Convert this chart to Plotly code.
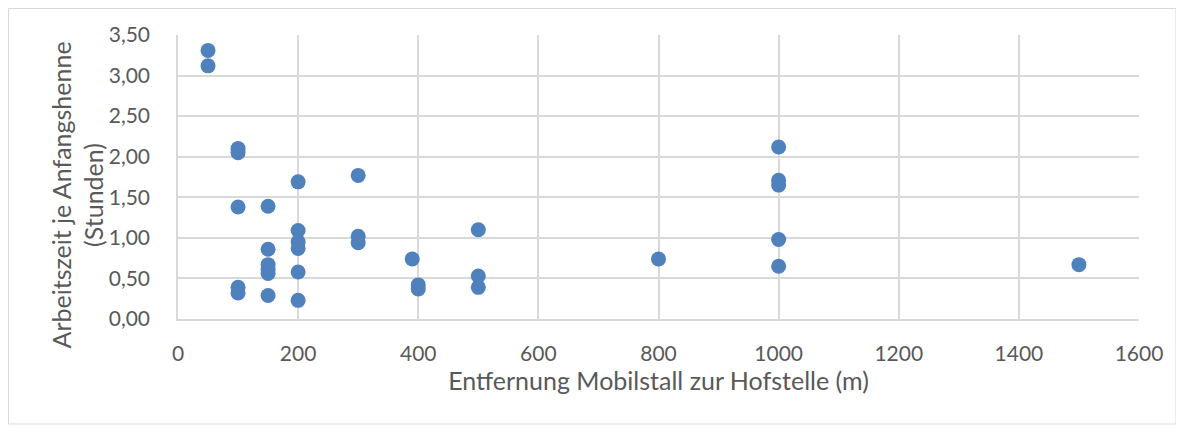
import plotly.graph_objects as go

# Distance mobile stable to farmstead (m)
entfernung = [50, 50,
              100, 100, 100, 100, 100,
              150, 150, 150, 150, 150, 150,
              200, 200, 200, 200, 200, 200,
              300, 300, 300,
              390, 400, 400,
              500, 500, 500,
              800,
              1000, 1000, 1000, 1000, 1000,
              1500]
# Working time per initial hen (hours)
arbeitszeit = [3.31, 3.12,
               2.10, 2.05, 1.38, 0.39, 0.32,
               1.39, 0.86, 0.67, 0.61, 0.56, 0.29,
               1.69, 1.09, 0.95, 0.87, 0.58, 0.23,
               1.77, 1.02, 0.94,
               0.74, 0.42, 0.37,
               1.10, 0.53, 0.39,
               0.74,
               2.12, 1.71, 1.65, 0.98, 0.65,
               0.67]

x_ticks = [0, 200, 400, 600, 800, 1000, 1200, 1400, 1600]
y_ticks = [0, 0.5, 1.0, 1.5, 2.0, 2.5, 3.0, 3.5]

font_fam = "Lato, Carlito, Calibri, sans-serif"
grey = "#595959"
grid = "#d9d9d9"

W, H = 1176, 424
ML, MR, MT, MB = 170, 45, 27, 113
PW, PH = W - ML - MR, H - MT - MB

fig = go.Figure()
fig.add_trace(go.Scatter(
    x=entfernung, y=arbeitszeit, mode="markers",
    marker=dict(size=15, color="#4f81bd", line=dict(width=0)),
    showlegend=False, hoverinfo="x+y"))

fig.update_layout(
    width=W, height=H,
    margin=dict(l=ML, r=MR, t=MT, b=MB),
    paper_bgcolor="white", plot_bgcolor="white",
    separators=",.",
    font=dict(family=font_fam, color=grey, size=21),
    xaxis=dict(range=[0, 1600], tickvals=x_ticks, tickformat="d",
               showgrid=True, gridcolor=grid, gridwidth=1.5,
               showline=True, linecolor=grid, linewidth=1.5,
               zeroline=False, ticks="", ticklabelstandoff=15,
               tickfont=dict(size=21, color=grey),
               title=dict(text="Entfernung Mobilstall zur Hofstelle (m)",
                          font=dict(size=25, color=grey), standoff=8),
               automargin=False),
    yaxis=dict(range=[0, 3.5], tickvals=y_ticks, tickformat=".2f",
               showgrid=True, gridcolor=grid, gridwidth=1.5,
               showline=True, linecolor=grid, linewidth=1.5,
               zeroline=False, ticks="", ticklabelstandoff=22,
               tickfont=dict(size=21, color=grey),
               automargin=False),
    annotations=[dict(text="Arbeitszeit je Anfangshenne<br>(Stunden)",
                      xref="paper", yref="paper",
                      x=(68.5 - ML) / PW, y=(MT + PH - 187) / PH,
                      xanchor="center", yanchor="middle",
                      textangle=-90, showarrow=False,
                      font=dict(size=25, color=grey))],
    shapes=[dict(type="rect", xref="paper", yref="paper",
                 x0=(0.5 - ML) / PW, x1=(1168 - ML) / PW,
                 y0=-(416 - MT - PH) / PH, y1=(MT + PH - 0.5) / PH,
                 line=dict(color="#d9d9d9", width=1), layer="below")],
)

fig.write_html("out.html")
